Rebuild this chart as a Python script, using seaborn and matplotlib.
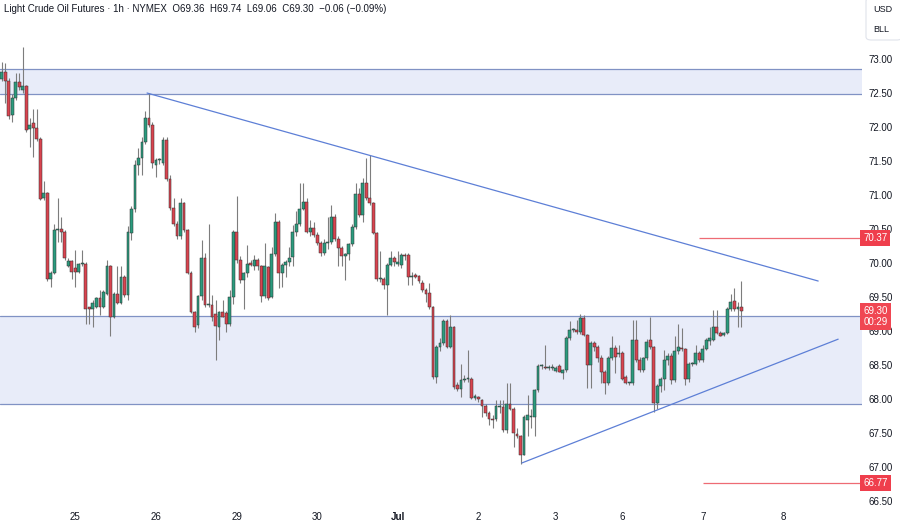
import numpy as np
import pandas as pd
import matplotlib
matplotlib.use("Agg")
import matplotlib.pyplot as plt
from matplotlib.patches import FancyBboxPatch
import seaborn as sns

# hourly candles (Jun 24 evening -> Jul 7)
opens = [72.70, 72.81, 72.68, 72.18, 72.42, 72.66, 72.55, 72.60, 71.97, 72.06, 71.99, 71.83,
         70.95, 71.03, 69.76, 69.86, 70.48, 70.50, 70.46, 69.96, 70.03, 69.93, 69.87, 69.98,
         69.99, 69.35, 69.33, 69.36, 69.48, 69.36, 69.55, 69.95, 69.21, 69.55, 69.41, 69.80,
         69.53, 70.44, 70.80, 71.44, 71.54, 71.78, 72.13, 72.03, 71.44, 71.51, 71.47, 71.81,
         71.23, 70.81, 70.58, 70.39, 70.88, 70.48, 69.86, 69.28, 69.09, 69.51, 70.07, 69.38,
         69.38, 69.25, 69.06, 69.28, 69.26, 69.11, 69.50, 70.45, 70.04, 69.75, 69.85, 70.00,
         69.95, 70.05, 69.95, 69.51, 69.94, 69.50, 70.13, 70.61, 69.85, 69.97, 70.02, 70.09,
         70.46, 70.58, 70.80, 70.90, 70.46, 70.52, 70.41, 70.29, 70.14, 70.30, 70.31, 70.68,
         70.36, 70.22, 70.10, 70.13, 70.28, 70.53, 71.02, 70.71, 71.17, 70.95, 70.88, 70.44,
         69.76, 69.77, 69.68, 69.97, 70.08, 69.98, 69.97, 70.12, 70.12, 69.80, 69.82, 69.81,
         69.71, 69.61, 69.56, 69.35, 68.33, 68.77, 68.83, 69.14, 68.77, 69.06, 68.20, 68.15,
         68.28, 68.29, 68.29, 68.01, 68.03, 67.99, 67.89, 67.79, 67.71, 67.70, 67.88, 67.88,
         67.54, 67.93, 67.86, 67.49, 67.45, 67.18, 67.69, 67.74, 67.74, 68.13, 68.48, 68.47,
         68.46, 68.46, 68.41, 68.48, 68.38, 68.43, 68.89, 69.02, 69.02, 68.98, 69.19, 68.94,
         68.50, 68.82, 68.77, 68.60, 68.40, 68.24, 68.61, 68.75, 68.66, 68.67, 68.33, 68.23,
         68.23, 68.87, 68.58, 68.43, 68.60, 68.87, 68.76, 67.94, 68.19, 68.30, 68.57, 68.63,
         68.28, 68.70, 68.75, 68.73, 68.30, 68.51, 68.52, 68.67, 68.57, 68.74, 68.85, 68.87,
         69.06, 68.97, 68.94, 68.97, 69.33, 69.44, 69.33, 69.36]
highs = [72.96, 72.94, 72.72, 72.49, 72.79, 72.79, 73.18, 72.62, 72.13, 72.27, 72.27, 71.86,
         71.20, 71.05, 69.88, 70.58, 70.95, 70.68, 70.48, 70.07, 70.05, 70.19, 70.00, 70.19,
         70.01, 69.36, 69.46, 69.50, 69.60, 69.60, 70.04, 69.97, 69.57, 69.95, 69.95, 69.82,
         70.55, 70.84, 71.52, 71.69, 71.86, 72.23, 72.50, 72.08, 71.55, 71.55, 71.86, 71.85,
         71.30, 70.95, 70.62, 70.95, 70.90, 70.50, 69.88, 69.30, 69.53, 70.34, 70.14, 70.58,
         69.53, 69.45, 69.29, 69.46, 69.30, 69.60, 70.48, 70.98, 70.10, 69.87, 70.26, 70.05,
         70.12, 70.08, 69.97, 70.29, 69.96, 70.24, 70.73, 70.63, 70.00, 70.05, 70.24, 70.56,
         70.76, 71.17, 71.17, 70.95, 70.63, 70.61, 70.45, 70.32, 70.36, 70.68, 70.85, 70.72,
         70.40, 70.25, 70.15, 70.30, 70.58, 71.17, 71.10, 71.25, 71.54, 71.59, 70.90, 70.46,
         70.17, 69.80, 70.00, 70.17, 70.10, 70.17, 70.14, 70.15, 70.14, 69.87, 69.85, 69.83,
         69.75, 69.63, 69.70, 69.37, 68.80, 68.90, 69.17, 69.17, 69.24, 69.08, 68.25, 68.52,
         68.35, 68.72, 68.32, 68.08, 68.05, 68.00, 67.92, 67.82, 67.76, 67.99, 67.99, 67.99,
         68.23, 68.23, 67.88, 67.57, 67.47, 67.76, 68.06, 67.86, 68.15, 68.52, 68.52, 68.79,
         68.50, 68.52, 68.48, 68.52, 68.44, 68.92, 69.14, 69.05, 69.16, 69.25, 69.24, 68.96,
         68.85, 68.85, 68.80, 68.65, 68.42, 68.63, 68.92, 68.80, 68.80, 68.70, 68.36, 68.25,
         69.16, 69.16, 68.62, 68.62, 68.88, 69.21, 68.78, 68.22, 68.32, 68.72, 68.68, 68.68,
         68.92, 69.11, 69.04, 68.75, 68.55, 68.55, 68.80, 68.70, 68.80, 68.90, 69.06, 69.31,
         69.31, 69.00, 68.98, 69.35, 69.55, 69.63, 69.43, 69.74]
lows = [72.67, 72.35, 72.12, 72.08, 72.40, 72.55, 72.50, 71.93, 71.71, 71.56, 71.80, 70.92,
        70.93, 69.74, 69.65, 69.84, 70.31, 70.31, 70.05, 69.94, 69.76, 69.65, 69.85, 69.96,
        69.11, 69.11, 69.06, 69.34, 69.24, 69.34, 69.53, 68.92, 69.19, 69.40, 69.39, 69.50,
        69.45, 70.34, 70.75, 71.29, 71.29, 71.75, 72.00, 71.40, 71.27, 71.45, 71.44, 71.20,
        70.78, 70.55, 70.36, 70.36, 70.45, 69.84, 69.26, 68.99, 69.04, 69.45, 69.36, 69.35,
        69.15, 68.57, 68.87, 69.20, 68.99, 69.08, 69.40, 70.00, 69.70, 69.33, 69.80, 69.95,
        69.90, 69.90, 69.43, 69.48, 69.45, 69.48, 70.10, 69.63, 69.65, 69.80, 69.95, 69.95,
        70.40, 70.55, 70.78, 70.44, 70.40, 70.38, 70.26, 70.10, 70.12, 70.20, 70.28, 70.33,
        69.95, 69.95, 69.75, 70.05, 70.25, 70.50, 70.68, 70.60, 70.93, 70.85, 70.42, 69.74,
        69.72, 69.62, 69.24, 69.95, 69.95, 69.95, 69.92, 70.05, 69.68, 69.68, 69.78, 69.70,
        69.58, 69.43, 69.33, 68.30, 68.23, 68.70, 68.80, 68.75, 68.75, 68.15, 68.12, 68.03,
        68.25, 68.25, 68.00, 67.98, 67.95, 67.74, 67.75, 67.62, 67.57, 67.68, 67.79, 67.52,
        67.50, 67.84, 67.30, 67.42, 67.04, 67.17, 67.45, 67.57, 67.45, 68.10, 68.44, 68.44,
        68.42, 68.43, 68.39, 68.40, 68.30, 68.40, 68.87, 68.98, 68.96, 68.95, 68.92, 68.16,
        68.16, 68.70, 68.55, 68.23, 68.08, 68.20, 68.58, 68.38, 68.62, 68.28, 68.22, 68.21,
        68.20, 68.55, 68.40, 68.40, 68.58, 68.74, 67.81, 67.85, 68.10, 68.13, 68.50, 68.22,
        68.25, 68.66, 68.70, 68.21, 68.25, 68.48, 68.50, 68.55, 68.55, 68.72, 68.80, 68.85,
        68.95, 68.92, 68.92, 68.95, 69.30, 69.30, 69.06, 69.06]
closes = [72.81, 72.68, 72.16, 72.42, 72.66, 72.59, 72.60, 71.96, 72.03, 71.99, 71.83, 70.94,
          71.03, 69.76, 69.86, 70.48, 70.50, 70.46, 70.07, 70.03, 69.87, 69.87, 69.98, 69.99,
          69.33, 69.33, 69.41, 69.48, 69.36, 69.58, 69.96, 69.21, 69.55, 69.41, 69.80, 69.53,
          70.46, 70.80, 71.44, 71.54, 71.78, 72.13, 72.03, 71.47, 71.51, 71.51, 71.81, 71.23,
          70.81, 70.58, 70.39, 70.88, 70.48, 69.86, 69.28, 69.06, 69.51, 70.07, 69.38, 69.38,
          69.21, 69.07, 69.28, 69.21, 69.11, 69.50, 70.45, 70.04, 69.75, 69.85, 69.99, 69.97,
          70.04, 69.95, 69.51, 69.95, 69.49, 70.13, 70.61, 69.85, 69.97, 70.02, 70.08, 70.46,
          70.58, 70.80, 70.90, 70.46, 70.52, 70.41, 70.29, 70.14, 70.30, 70.31, 70.68, 70.36,
          70.22, 70.10, 70.13, 70.28, 70.53, 71.02, 70.71, 71.17, 70.95, 70.88, 70.44, 69.76,
          69.78, 69.68, 69.97, 70.08, 70.02, 70.02, 70.12, 70.11, 69.80, 69.81, 69.80, 69.73,
          69.61, 69.55, 69.36, 68.33, 68.77, 68.83, 69.14, 68.77, 69.06, 68.17, 68.15, 68.28,
          68.29, 68.29, 68.01, 68.04, 68.00, 67.89, 67.79, 67.70, 67.69, 67.89, 67.88, 67.54,
          67.93, 67.86, 67.50, 67.45, 67.18, 67.74, 67.77, 67.74, 68.13, 68.48, 68.50, 68.46,
          68.46, 68.47, 68.46, 68.40, 68.42, 68.89, 69.02, 69.02, 68.98, 69.19, 68.94, 68.50,
          68.82, 68.77, 68.60, 68.40, 68.23, 68.61, 68.75, 68.62, 68.66, 68.30, 68.23, 68.23,
          68.87, 68.57, 68.43, 68.60, 68.84, 68.76, 67.94, 68.19, 68.30, 68.57, 68.63, 68.28,
          68.70, 68.76, 68.73, 68.30, 68.51, 68.52, 68.67, 68.57, 68.74, 68.87, 68.90, 69.06,
          68.97, 68.93, 68.97, 69.33, 69.43, 69.33, 69.35, 69.30]

# time axis labels (bar index where the day label sits)
day_labels = ["25", "26", "29", "30", "Jul", "2", "3", "6", "7", "8"]
day_pos = [21, 44, 67, 90, 113, 136, 158, 177, 200, 223]
price_ticks = [66.5, 67.0, 67.5, 68.0, 68.5, 69.0, 69.5, 70.0, 70.5, 71.0, 71.5, 72.0, 72.5, 73.0]

# drawings on the chart
upper_zone = (72.485, 72.853)
lower_zone = (67.93, 69.22)
down_trend_x = [41.45, 232.9]
down_trend_y = [72.50, 69.735]
up_trend_x = [148.4, 238.6]
up_trend_y = [67.06, 68.88]
target_levels = [70.37, 66.77]
target_start = [198.9, 200.1]
last_price = 69.30

df = pd.DataFrame({"open": opens, "high": highs, "low": lows, "close": closes})
df["i"] = np.arange(len(df))
df["up"] = df["close"] >= df["open"]

GREEN = "#2b9b7e"
RED = "#d9444f"
ZONE = "#e8ecf9"
ZONE_EDGE = "#8092c4"
TREND = "#5d7fd6"
TXT = "#131722"

sns.set_theme(style="white")
plt.rcParams["font.family"] = ["Liberation Sans", "DejaVu Sans"]

fig = plt.figure(figsize=(9, 5.25), dpi=100)
ax = fig.add_axes([0, 17 / 525, 862 / 900, 508 / 525])

# zones
for lo, hi in [upper_zone, lower_zone]:
    ax.axhspan(lo, hi, facecolor=ZONE, edgecolor="none", zorder=0)
    ax.axhline(lo, color=ZONE_EDGE, lw=0.9, zorder=1)
    ax.axhline(hi, color=ZONE_EDGE, lw=0.9, zorder=1)

# candles
ax.vlines(df["i"], df["low"], df["high"], color="#7d7d7d", lw=0.8, zorder=2)
body_lo = df[["open", "close"]].min(axis=1)
body_h = (df["close"] - df["open"]).abs().clip(lower=0.015)
colors = np.where(df["up"], GREEN, RED)
ax.bar(df["i"], body_h, bottom=body_lo, width=0.8, color=colors,
       edgecolor="#2f2f2f", linewidth=0.35, zorder=3)

# trend lines
trend = pd.DataFrame({"x": down_trend_x + up_trend_x,
                      "y": down_trend_y + up_trend_y,
                      "line": ["down", "down", "up", "up"]})
sns.lineplot(data=trend, x="x", y="y", units="line", estimator=None,
             color=TREND, lw=0.9, ax=ax, zorder=4)

# target levels
for lvl, x0 in zip(target_levels, target_start):
    ax.hlines(lvl, x0, 260, color="#ee6b74", lw=0.9, zorder=4)

ax.set_xlim(-0.5, 245.4)
ax.set_ylim(66.397, 73.868)
for s in ax.spines.values():
    s.set_visible(False)
ax.set_xlabel("")
ax.set_ylabel("")

ax.yaxis.tick_right()
ax.set_yticks(price_ticks)
ax.set_yticklabels([f"{p:.2f}" for p in price_ticks])
ax.tick_params(axis="y", length=0, pad=5, labelsize=7, labelcolor=TXT)
ax.set_xticks(day_pos)
ax.set_xticklabels(day_labels)
ax.tick_params(axis="x", length=0, pad=3, labelsize=7, labelcolor=TXT)
for lab in ax.get_xticklabels():
    if lab.get_text() == "Jul":
        lab.set_fontweight("bold")

# price scale labels
ytr = ax.get_yaxis_transform()
for lvl in target_levels:
    ax.text(1.0015, lvl, f"{lvl:.2f}", transform=ytr, ha="left", va="center",
            fontsize=7, color="white", clip_on=False, zorder=6,
            bbox=dict(boxstyle="square,pad=0.3", fc="#ef3e4c", ec="none"))
ax.text(1.0015, last_price - 0.085, f"{last_price:.2f}\n00:29", transform=ytr,
        ha="left", va="center", fontsize=7, color="white", clip_on=False,
        zorder=6, linespacing=1.1,
        bbox=dict(boxstyle="square,pad=0.3", fc="#f04652", ec="none"))

fig.text(4 / 900, 1 - 9 / 525,
         "Light Crude Oil Futures \u00b7 1h \u00b7 NYMEX  O69.36  H69.74  L69.06  C69.30  \u22120.06 (\u22120.09%)",
         fontsize=7, color=TXT, va="center", ha="left")

# currency / unit box in the top right corner
fig.patches.append(FancyBboxPatch((866 / 900, 1 - 40 / 525), 36 / 900, 42 / 525,
                                  boxstyle="round,pad=0,rounding_size=0.006",
                                  transform=fig.transFigure, fc="white",
                                  ec="#e0e3eb", lw=0.8))
fig.text(873 / 900, 1 - 9 / 525, "USD", fontsize=6.5, color=TXT, va="center")
fig.text(873 / 900, 1 - 30 / 525, "BLL", fontsize=6.5, color=TXT, va="center")

fig.savefig("out.png", dpi=100)
